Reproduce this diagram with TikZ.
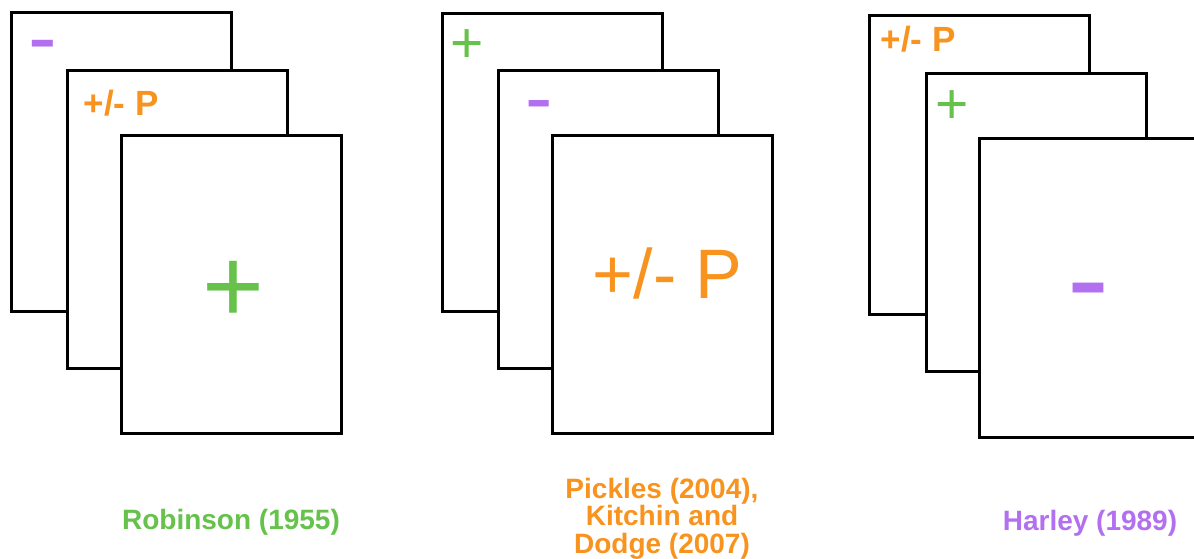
\documentclass[tikz,border=0pt]{standalone}
\usepackage{fontspec}
\setmainfont{Liberation Sans}
\definecolor{cgreen}{RGB}{102,194,74}
\definecolor{corange}{RGB}{247,147,30}
\definecolor{cpurple}{RGB}{178,112,240}
\newcommand{\fs}[1]{\fontsize{#1}{#1}\selectfont}
\tikzset{
  card/.style={draw=black, fill=white, line width=3pt, minimum width=220pt, minimum height=298pt, inner sep=0pt},
  sign/.style={inner sep=0pt, anchor=base},
  lbl/.style={inner sep=0pt, anchor=base, font=\fs{28}\bfseries, align=center},
}
\begin{document}
\begin{tikzpicture}[x=1pt,y=-1pt]
\useasboundingbox (0,0) rectangle (1194,559);
\clip (0,0) rectangle (1194,559);
% Group 1
\node[card] (a1) at (121,162) {};
\node[card] (a2) at (177.5,219.5) {};
\node[card] (a3) at (231.5,284.5) {};
\node[sign, text=cpurple, font=\fs{86}] (a1s) at (42.5,66.8) {-};
\node[inner sep=0pt, anchor=base west, text=corange, font=\fs{35}\bfseries] (a2s) at (83.6,116) {+/- P};
\node[sign, text=cgreen, font=\fs{106}] (a3s) at (233,322.5) {+};
\node[lbl, text=cgreen] (la) at (231,529) {Robinson (1955)};
% Group 2
\node[card] (b1) at (552,162.5) {};
\node[card] (b2) at (608.8,219.7) {};
\node[card] (b3) at (662.5,284.8) {};
\node[sign, text=cgreen, font=\fs{57}] (b1s) at (467.5,62.5) {+};
\node[sign, text=cpurple, font=\fs{82}] (b2s) at (539,125.7) {-};
\node[inner sep=0pt, anchor=base west, text=corange, font=\fs{70}] (b3s) at (592.6,298) {+/- P};
\node[lbl, text=corange] (lb1) at (662,498) {Pickles (2004),};
\node[lbl, text=corange] (lb2) at (662,525.5) {Kitchin and};
\node[lbl, text=corange] (lb3) at (662,553) {Dodge (2007)};
% Group 3
\node[card] (c1) at (979.5,165) {};
\node[card] (c2) at (1036.2,222.8) {};
\node[card] (c3) at (1089.3,288) {};
\node[inner sep=0pt, anchor=base west, text=corange, font=\fs{35}\bfseries] (c1s) at (880.6,52) {+/- P};
\node[sign, text=cgreen, font=\fs{57}] (c2s) at (952,123.5) {+};
\node[sign, text=cpurple, font=\fs{126}] (c3s) at (1088,321.4) {-};
\node[lbl, text=cpurple] (lc) at (1090,530) {Harley (1989)};
\end{tikzpicture}
\end{document}
